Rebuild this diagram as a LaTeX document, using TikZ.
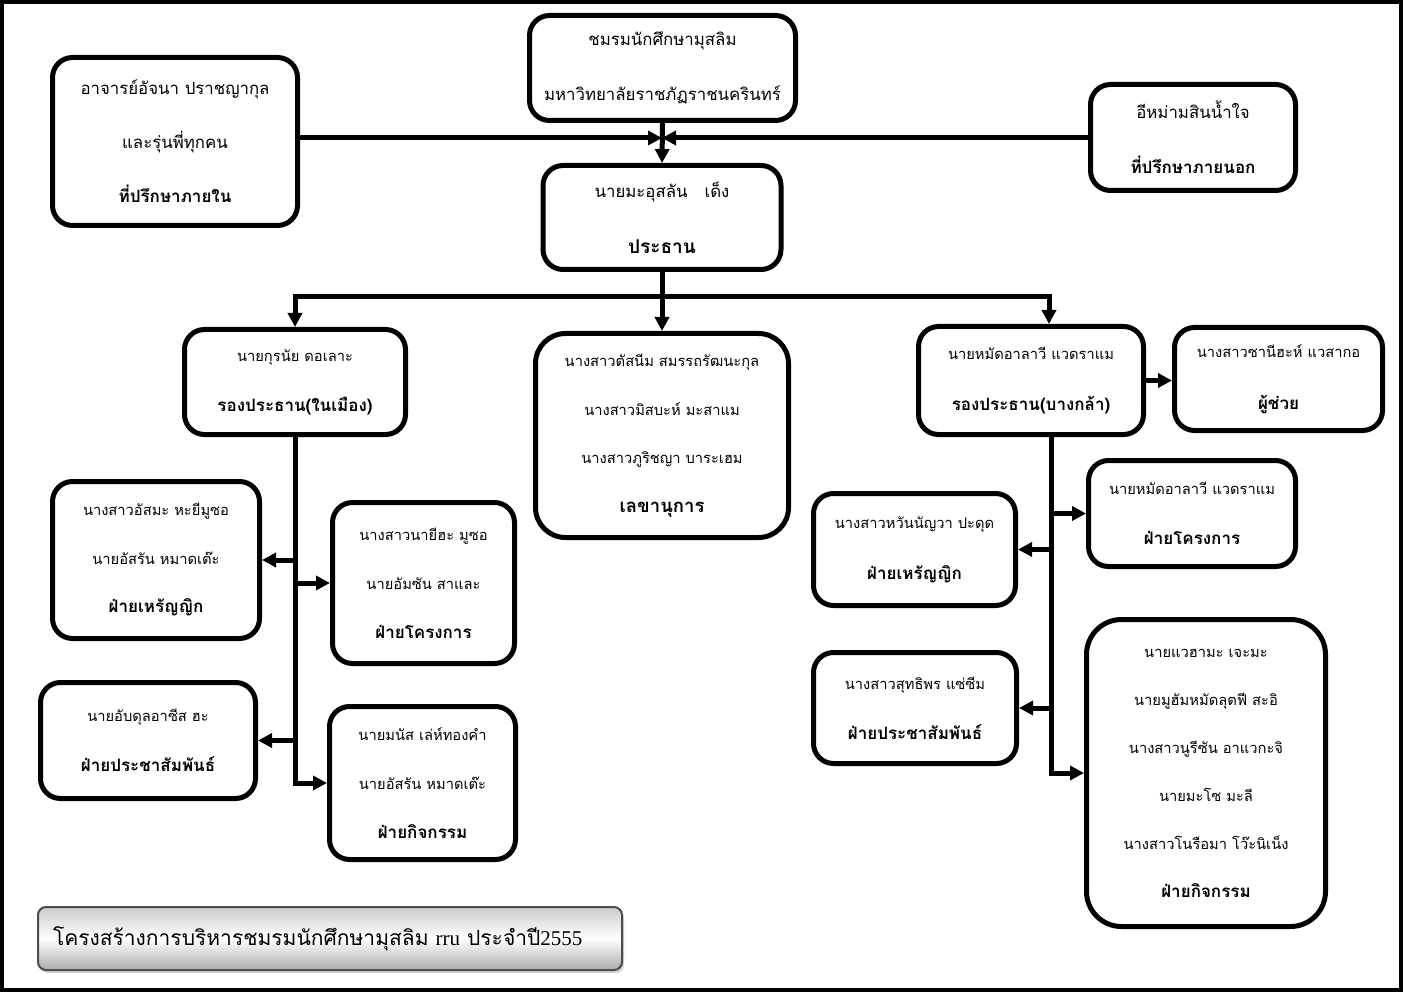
\documentclass[tikz,border=0pt]{standalone}
\usepackage{fontspec}
\newfontfamily\thaifont[Script=Thai]{Loma}
\newfontfamily\latinserif{Liberation Serif}
\usetikzlibrary{arrows.meta,shadows}
\newcommand{\bt}{\fontsize{17pt}{\lsk}\selectfont\bfseries}
\def\lsk{50pt}
\begin{document}
\begin{tikzpicture}[x=1pt,y=-1pt,
  box/.style 2 args={draw,line width=5pt,rounded corners=20pt,fill=white,
    minimum width=#1,minimum height=#2,inner sep=0pt,align=center},
  ls/.style={font=\def\lsk{#1}\thaifont\fontsize{14.7pt}{#1}\selectfont},
  lsbig/.style={font=\def\lsk{#1}\thaifont\fontsize{16.8pt}{#1}\selectfont},
  conn/.style={line width=5pt},
  arr/.style={conn,-{Triangle[length=14pt,width=14pt]}},
  titlebox/.style={draw=gray!60!black,line width=2pt,rounded corners=8pt,
    top color=gray!40,bottom color=gray!65,middle color=white,
    minimum width=584pt,minimum height=63pt,text width=554pt,inner xsep=15pt,align=left,
    drop shadow={shadow xshift=2pt,shadow yshift=-3pt,opacity=0.35},
    font=\thaifont\fontsize{21pt}{26pt}\selectfont}
]
\useasboundingbox (0,0) rectangle (1403,992);
\draw[line width=4pt] (2,2) rectangle (1401,990);

% top row
\node[box={245pt}{168pt},lsbig=54pt] (adin) at (175,141.5)
  {อาจารย์อัจนา ปราชญากุล\\และรุ่นพี่ทุกคน\\\bt ที่ปรึกษาภายใน};
\node[box={266pt}{105pt},lsbig=55pt] (club) at (662.5,68)
  {ชมรมนักศึกษามุสลิม\\มหาวิทยาลัยราชภัฏราชนครินทร์};
\node[box={205pt}{106pt},lsbig=55pt] (adout) at (1193,137.5)
  {อีหม่ามสินน้ำใจ\\\bt ที่ปรึกษาภายนอก};
\node[box={238pt}{104pt},lsbig=56pt] (pres) at (662,217.5)
  {นายมะอุสลัน \ \ เด็ง\\\bt\fontsize{19pt}{\lsk}\selectfont ประธาน};

% second row
\node[box={221pt}{105pt},ls=50pt] (vpl) at (295,382)
  {นายกุรนัย ดอเลาะ\\\bt รองประธาน(ในเมือง)};
\node[box={253pt}{204pt},ls=48.5pt,rounded corners=30pt] (sec) at (662,435.5)
  {นางสาวตัสนีม สมรรถรัฒนะกุล\\นางสาวมิสบะห์ มะสาแม\\นางสาวภูริชญา บาระเฮม\\\bt\fontsize{18.5pt}{\lsk}\selectfont เลขานุการ};
\node[box={225pt}{108pt},ls=51pt] (vpr) at (1031,380.5)
  {นายหมัดอาลาวี แวดราแม\\\bt รองประธาน(บางกล้า)};
\node[box={208pt}{103pt},ls=52pt] (ass) at (1278.5,379)
  {นางสาวซานีฮะห์ แวสากอ\\\bt ผู้ช่วย};

% left branch
\node[box={207pt}{157pt},ls=48.5pt] (ltreas) at (156,560)
  {นางสาวอัสมะ หะยีมูซอ\\นายอัสรัน หมาดเต๊ะ\\\bt ฝ่ายเหรัญญิก};
\node[box={182pt}{161pt},ls=49pt] (lproj) at (423.5,583)
  {นางสาวนายีฮะ มูซอ\\นายอัมซัน สาและ\\\bt ฝ่ายโครงการ};
\node[box={215pt}{116pt},ls=50pt] (lpr) at (148,740.5)
  {นายอับดุลอาซีส ฮะ\\\bt ฝ่ายประชาสัมพันธ์};
\node[box={186pt}{153pt},ls=49pt] (lact) at (422.5,783)
  {นายมนัส เล่ห์ทองคำ\\นายอัสรัน หมาดเต๊ะ\\\bt ฝ่ายกิจกรรม};

% right branch
\node[box={202pt}{112pt},ls=51pt] (rtreas) at (914.5,549.5)
  {นางสาวหวันนัญวา ปะดุด\\\bt ฝ่ายเหรัญญิก};
\node[box={207pt}{106pt},ls=50pt] (rproj) at (1192,513.5)
  {นายหมัดอาลาวี แวดราแม\\\bt ฝ่ายโครงการ};
\node[box={203pt}{111pt},ls=50pt] (rpr) at (915,708)
  {นางสาวสุทธิพร แซ่ซีม\\\bt ฝ่ายประชาสัมพันธ์};
\node[box={239pt}{307pt},ls=48pt,rounded corners=35pt] (ract) at (1206,773)
  {นายแวฮามะ เจะมะ\\นายมูฮัมหมัดลุตฟี สะอิ\\นางสาวนูรีซัน อาแวกะจิ\\นายมะโซ มะลี\\นางสาวโนรือมา โว๊ะนิเน็ง\\\bt ฝ่ายกิจกรรม};

% title
\node[titlebox] (title) at (330,938.5)
  {โครงสร้างการบริหารชมรมนักศึกษามุสลิม {\latinserif rru} ประจำปี{\latinserif 2555}};

% connectors: advisers and club to president
\coordinate (J) at (662,138);
\draw[arr] (adin.east |- J) -- (J);
\draw[arr] (adout.west |- J) -- (J);
\draw[arr] (club.south) -- (pres.north);

% president to second row
\coordinate (bar) at (662,297);
\draw[arr] (pres.south) -- (sec.north);
\draw[arr] (bar) -| (vpl.north);
\coordinate (vprtop) at ([xshift=18pt]vpr.north);
\draw[arr] (bar) -| (vprtop);
\draw[arr] (vpr.east) -- (vpr.east -| ass.west);

% left trunk
\draw[arr] (vpl.south) |- (lact.west);
\draw[arr] (vpl.south |- ltreas.east) -- (ltreas.east);
\draw[arr] (vpl.south |- lproj.west) -- (lproj.west);
\draw[arr] (vpl.south |- lpr.east) -- (lpr.east);

% right trunk
\coordinate (vprbot) at ([xshift=20pt]vpr.south);
\draw[arr] (vprbot) |- (ract.west);
\draw[arr] (vprbot |- rproj.west) -- (rproj.west);
\draw[arr] (vprbot |- rtreas.east) -- (rtreas.east);
\draw[arr] (vprbot |- rpr.east) -- (rpr.east);
\end{tikzpicture}
\end{document}
